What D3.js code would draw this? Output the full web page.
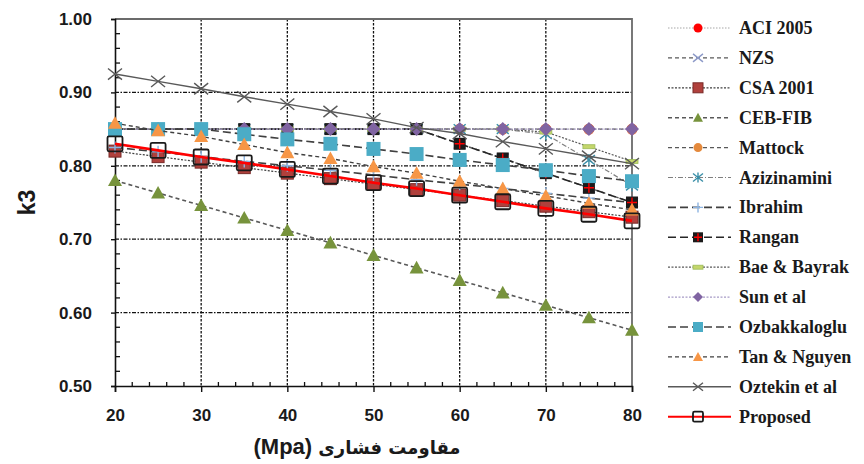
<!DOCTYPE html>
<html>
<head>
<meta charset="utf-8">
<script src="https://cdn.jsdelivr.net/npm/d3@7"></script>
<style>
  html, body { margin: 0; padding: 0; background: #fff; }
  svg { display: block; }
</style>
</head>
<body>
<svg id="chart" width="864" height="464"></svg>
<script>
// Compressive strength (MPa) at which k3 is evaluated
const strengths = [20, 25, 30, 35, 40, 45, 50, 55, 60, 65, 70, 75, 80];

// k3 values per model
const aci2005      = [0.85, 0.85, 0.85, 0.85, 0.85, 0.85, 0.85, 0.85, 0.85, 0.85, 0.85, 0.85, 0.85];
const nzs          = [0.85, 0.85, 0.85, 0.85, 0.85, 0.85, 0.85, 0.85, 0.83, 0.81, 0.79, 0.77, 0.75];
const csa2001      = [0.820, 0.8125, 0.805, 0.7975, 0.790, 0.7825, 0.775, 0.7675, 0.760, 0.7525, 0.745, 0.7375, 0.730];
const cebFib       = [0.780, 0.763, 0.746, 0.729, 0.712, 0.695, 0.678, 0.661, 0.644, 0.627, 0.610, 0.593, 0.576];
const mattock      = [0.85, 0.85, 0.85, 0.85, 0.85, 0.85, 0.85, 0.85, 0.85, 0.85, 0.85, 0.85, 0.85];
const azizinamini  = [0.85, 0.85, 0.85, 0.85, 0.85, 0.85, 0.85, 0.85, 0.85, 0.85, 0.843, 0.808, 0.773];
const ibrahim      = [0.825, 0.819, 0.8125, 0.806, 0.800, 0.794, 0.7875, 0.781, 0.775, 0.769, 0.7625, 0.756, 0.750];
const rangan       = [0.85, 0.85, 0.85, 0.85, 0.85, 0.85, 0.85, 0.85, 0.83, 0.81, 0.79, 0.77, 0.75];
const baeBayrak    = [0.85, 0.85, 0.85, 0.85, 0.85, 0.85, 0.85, 0.85, 0.85, 0.85, 0.846, 0.826, 0.806];
const sunEtAl      = [0.85, 0.85, 0.85, 0.85, 0.85, 0.85, 0.85, 0.85, 0.85, 0.85, 0.85, 0.85, 0.85];
const ozbakkaloglu = [0.850, 0.850, 0.850, 0.843, 0.836, 0.830, 0.823, 0.816, 0.808, 0.801, 0.794, 0.786, 0.779];
const tanNguyen    = [0.858, 0.848, 0.840, 0.829, 0.818, 0.810, 0.799, 0.790, 0.779, 0.769, 0.759, 0.749, 0.740];
const oztekin      = [0.925, 0.915, 0.905, 0.894, 0.884, 0.874, 0.864, 0.852, 0.844, 0.833, 0.823, 0.813, 0.803];
const proposed     = [0.830, 0.821, 0.812, 0.804, 0.795, 0.786, 0.777, 0.769, 0.760, 0.751, 0.742, 0.734, 0.725];

// Axis ticks
const xTicks = [20, 30, 40, 50, 60, 70, 80];
const yTicks = [0.50, 0.60, 0.70, 0.80, 0.90, 1.00];

// Series names as shown in the legend
const seriesNames = ["ACI 2005", "NZS", "CSA 2001", "CEB-FIB", "Mattock", "Azizinamini", "Ibrahim",
  "Rangan", "Bae & Bayrak", "Sun et al", "Ozbakkaloglu", "Tan & Nguyen", "Oztekin et al", "Proposed"];
const seriesValues = [aci2005, nzs, csa2001, cebFib, mattock, azizinamini, ibrahim,
  rangan, baeBayrak, sunEtAl, ozbakkaloglu, tanNguyen, oztekin, proposed];

// Drawing style per series
const styles = [
  { line: "#a6a6a6", width: 1,   dash: "1.5,1.5", marker: "circle",    fill: "#ff0000", stroke: "none",    size: 12 },
  { line: "#595959", width: 1.4, dash: "4,3",     marker: "x",         fill: "none",    stroke: "#8d9ac8", size: 12 },
  { line: "#404040", width: 1.2, dash: "2,1.5",   marker: "square",    fill: "#b0403c", stroke: "#7a2a28", size: 12 },
  { line: "#595959", width: 1.6, dash: "4,3",     marker: "triangle",  fill: "#77933c", stroke: "none",    size: 14 },
  { line: "#595959", width: 1.4, dash: "4,3",     marker: "circle",    fill: "#e4893c", stroke: "none",    size: 12 },
  { line: "#7f7f7f", width: 1.2, dash: "5,2,1,2", marker: "asterisk",  fill: "none",    stroke: "#3a8fa8", size: 12 },
  { line: "#404040", width: 1.6, dash: "8,4",     marker: "plus",      fill: "none",    stroke: "#8db4e2", size: 12 },
  { line: "#262626", width: 1.6, dash: "8,4",     marker: "sqcross",   fill: "#1a1a1a", stroke: "#ff0000", size: 12 },
  { line: "#595959", width: 1.2, dash: "2,1.5",   marker: "dash",      fill: "#c4d66b", stroke: "#9bbb59", size: 12 },
  { line: "#a79bc6", width: 1.2, dash: "2,1.5",   marker: "diamond",   fill: "#8064a2", stroke: "none",    size: 14 },
  { line: "#404040", width: 1.6, dash: "8,4",     marker: "square",    fill: "#4bacc6", stroke: "none",    size: 14 },
  { line: "#404040", width: 1.4, dash: "4,3",     marker: "triangle",  fill: "#f79646", stroke: "none",    size: 14 },
  { line: "#595959", width: 1.4, dash: null,      marker: "x",         fill: "none",    stroke: "#595959", size: 14 },
  { line: "#ff0000", width: 2.6, dash: null,      marker: "opensquare",fill: "none",    stroke: "#1a1a1a", size: 15 }
];

const svg = d3.select("#chart");
const x = d3.scaleLinear().domain([20, 80]).range([115, 632]);
const y = d3.scaleLinear().domain([0.5, 1.0]).range([386, 19]);

// Grid lines at major ticks
const grid = svg.append("g");
grid.selectAll("line.v").data(xTicks.slice(1, -1)).join("line")
  .attr("x1", d => x(d)).attr("x2", d => x(d))
  .attr("y1", y(1.0)).attr("y2", y(0.5))
  .attr("stroke", "#111").attr("stroke-width", 1.3).attr("stroke-dasharray", "2.5,1.5");
grid.selectAll("line.h").data(yTicks.slice(1, -1)).join("line")
  .attr("x1", x(20)).attr("x2", x(80))
  .attr("y1", d => y(d)).attr("y2", d => y(d))
  .attr("stroke", "#111").attr("stroke-width", 1.3).attr("stroke-dasharray", "4,1.5,1.5,1.5");

// Plot frame (top and right)
svg.append("path")
  .attr("d", `M${x(20)},${y(1.0)}H${x(80)}V${y(0.5)}`)
  .attr("fill", "none").attr("stroke", "#6b6b6b").attr("stroke-width", 1.8);

const tickFont = sel => sel
  .style("font-family", "'Liberation Sans', Arial, sans-serif")
  .style("font-weight", "bold").style("font-size", "17px").attr("fill", "#1a1a1a");

// Left axis with minor ticks pointing inward
const yAxis = d3.axisLeft(y).tickValues(yTicks).tickSize(4).tickFormat(d3.format(".2f"));
const gy = svg.append("g").attr("transform", `translate(${x(20)},0)`).call(yAxis);
gy.select(".domain").attr("stroke", "#111").attr("stroke-width", 1.6);
gy.selectAll(".tick line").attr("stroke", "#111").attr("stroke-width", 1.4);
gy.selectAll(".tick text").attr("x", -23).call(tickFont);
const yMinor = d3.range(0.52, 1.0, 0.02).filter(v => Math.abs(v * 10 - Math.round(v * 10)) > 0.01);
svg.append("g").selectAll("line").data(yMinor).join("line")
  .attr("x1", x(20)).attr("x2", x(20) + 5)
  .attr("y1", d => y(d)).attr("y2", d => y(d))
  .attr("stroke", "#111").attr("stroke-width", 1.3);

// Bottom axis with minor ticks pointing upward
const xAxis = d3.axisBottom(x).tickValues(xTicks).tickSize(6).tickFormat(d3.format("d"));
const gx = svg.append("g").attr("transform", `translate(0,${y(0.5)})`).call(xAxis);
gx.select(".domain").attr("stroke", "#111").attr("stroke-width", 1.6);
gx.selectAll(".tick line").attr("stroke", "#111").attr("stroke-width", 1.4);
gx.selectAll(".tick text").attr("y", 23).call(tickFont);
const xMinor = d3.range(22, 80, 2).filter(v => v % 10 !== 0);
svg.append("g").selectAll("line").data(xMinor).join("line")
  .attr("x1", d => x(d)).attr("x2", d => x(d))
  .attr("y1", y(0.5)).attr("y2", y(0.5) - 4)
  .attr("stroke", "#111").attr("stroke-width", 1.3);

// Axis titles
svg.append("text")
  .attr("transform", `translate(35,${(y(0.5) + y(1.0)) / 2}) rotate(-90)`)
  .attr("text-anchor", "middle")
  .style("font-family", "'Liberation Sans', Arial, sans-serif")
  .style("font-weight", "bold").style("font-size", "23px").attr("fill", "#1a1a1a")
  .text("k3");
const xTitle = svg.append("text")
  .attr("x", 357).attr("y", 454).attr("text-anchor", "middle")
  .attr("fill", "#1a1a1a");
xTitle.append("tspan")
  .style("font-family", "'Liberation Sans', Arial, sans-serif")
  .style("font-weight", "bold").style("font-size", "22px")
  .text("(Mpa) ");
xTitle.append("tspan")
  .style("font-family", "'DejaVu Sans', 'Noto Sans', sans-serif")
  .style("font-weight", "bold").style("font-size", "18px")
  .text("مقاومت فشاری");

// Marker shapes
function drawMarker(g, type, cx, cy, s, st) {
  const h = s / 2;
  if (type === "circle") {
    g.append("circle").attr("cx", cx).attr("cy", cy).attr("r", h * 0.9)
      .attr("fill", st.fill).attr("stroke", st.stroke);
  } else if (type === "square") {
    g.append("rect").attr("x", cx - h).attr("y", cy - h).attr("width", s).attr("height", s)
      .attr("fill", st.fill).attr("stroke", st.stroke).attr("stroke-width", 1);
  } else if (type === "opensquare") {
    g.append("rect").attr("x", cx - h).attr("y", cy - h).attr("width", s).attr("height", s)
      .attr("rx", 1.5).attr("fill", "none").attr("stroke", st.stroke).attr("stroke-width", 1.8);
  } else if (type === "sqcross") {
    g.append("rect").attr("x", cx - h).attr("y", cy - h).attr("width", s).attr("height", s)
      .attr("fill", st.fill);
    g.append("path").attr("d", `M${cx - h + 1},${cy}H${cx + h - 1}M${cx},${cy - h + 1}V${cy + h - 1}`)
      .attr("stroke", st.stroke).attr("stroke-width", 1.4);
  } else if (type === "triangle") {
    g.append("path").attr("d", `M${cx},${cy - h}L${cx + h},${cy + h * 0.8}L${cx - h},${cy + h * 0.8}Z`)
      .attr("fill", st.fill);
  } else if (type === "diamond") {
    g.append("path").attr("d", `M${cx},${cy - h}L${cx + h},${cy}L${cx},${cy + h}L${cx - h},${cy}Z`)
      .attr("fill", st.fill);
  } else if (type === "x") {
    g.append("path").attr("d", `M${cx - h},${cy - h * 0.8}L${cx + h},${cy + h * 0.8}M${cx - h},${cy + h * 0.8}L${cx + h},${cy - h * 0.8}`)
      .attr("stroke", st.stroke).attr("stroke-width", 1.4);
  } else if (type === "asterisk") {
    g.append("path").attr("d", `M${cx - h},${cy - h * 0.8}L${cx + h},${cy + h * 0.8}M${cx - h},${cy + h * 0.8}L${cx + h},${cy - h * 0.8}M${cx},${cy - h}V${cy + h}`)
      .attr("stroke", st.stroke).attr("stroke-width", 1.4);
  } else if (type === "plus") {
    g.append("path").attr("d", `M${cx - h},${cy}H${cx + h}M${cx},${cy - h}V${cy + h}`)
      .attr("stroke", st.stroke).attr("stroke-width", 1.4);
  } else if (type === "dash") {
    g.append("rect").attr("x", cx - h).attr("y", cy - 2).attr("width", s).attr("height", 4)
      .attr("fill", st.fill).attr("stroke", st.stroke).attr("stroke-width", 0.8);
  }
}

// Series lines and markers
const line = d3.line().x((d, i) => x(strengths[i])).y(d => y(d));
const plot = svg.append("g");
seriesValues.forEach((vals, k) => {
  const st = styles[k];
  const g = plot.append("g");
  g.append("path").attr("d", line(vals))
    .attr("fill", "none").attr("stroke", st.line).attr("stroke-width", st.width)
    .attr("stroke-dasharray", st.dash);
  vals.forEach((v, i) => drawMarker(g, st.marker, x(strengths[i]), y(v), st.size, st));
});

// Legend
const legend = svg.append("g");
seriesNames.forEach((name, k) => {
  const st = styles[k];
  const ly = 28 + k * 29.9;
  const g = legend.append("g");
  g.append("line").attr("x1", 668).attr("x2", 731).attr("y1", ly).attr("y2", ly)
    .attr("stroke", st.line).attr("stroke-width", Math.min(st.width, 2))
    .attr("stroke-dasharray", st.dash);
  drawMarker(g, st.marker, 698, ly, 10, st);
  g.append("text").attr("x", 739).attr("y", ly + 6)
    .style("font-family", "'Liberation Serif', 'Times New Roman', serif")
    .style("font-weight", "bold").style("font-size", "18px").attr("fill", "#1a1a1a")
    .text(name);
});
</script>
</body>
</html>
